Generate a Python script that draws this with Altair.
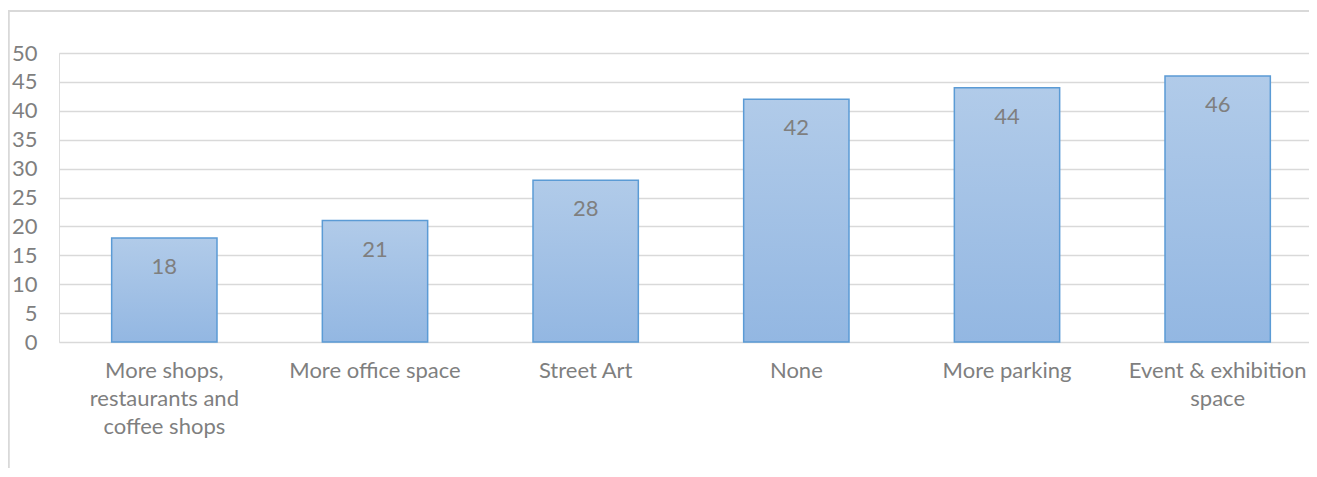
import altair as alt
import pandas as pd

categories = [
    "More shops,\nrestaurants and\ncoffee shops",
    "More office space",
    "Street Art",
    "None",
    "More parking",
    "Event & exhibition\nspace",
]
values = [18, 21, 28, 42, 44, 46]
y_ticks = [0, 5, 10, 15, 20, 25, 30, 35, 40, 45, 50]

df = pd.DataFrame({"cat": categories, "val": values})

FONT = "Lato"
TXT = "#7f7f7f"
GRID = "#d9d9d9"
W = 1250
H = 289
FS = 22

xscale = alt.Scale(range=[0, 1264], paddingInner=0.5, paddingOuter=0.25)
yscale = alt.Scale(domain=[0, 50], nice=False)

base = alt.Chart(df)

bars = base.mark_bar(
    color=alt.Gradient(
        gradient="linear",
        stops=[alt.GradientStop(color="#b1cbe9", offset=0),
               alt.GradientStop(color="#93b7e2", offset=1)],
        x1=0, x2=0, y1=0, y2=1,
    ),
    stroke="#5b9bd5",
    strokeWidth=1.5,
).encode(
    x=alt.X("cat:N", sort=None, scale=xscale, title=None,
            axis=alt.Axis(labelAngle=0, labelExpr="split(datum.label, '\\n')",
                          labelFont=FONT, labelFontSize=FS, labelColor=TXT,
                          labelLineHeight=28, labelPadding=18, ticks=False,
                          tickSize=0, domain=False, grid=False, labelLimit=300,
                          labelBaseline="top", labelOverlap=False)),
    y=alt.Y("val:Q", scale=yscale, title=None,
            axis=alt.Axis(values=y_ticks, tickCount=11, labelFont=FONT, labelFontSize=FS,
                          labelColor=TXT, labelPadding=22, ticks=False, tickSize=0,
                          labelOverlap=False, domain=False, grid=True,
                          gridColor=GRID, gridWidth=1.5)),
)

labels = base.mark_text(
    font=FONT, fontSize=FS, color=TXT, baseline="middle", dy=29
).encode(
    x=alt.X("cat:N", sort=None, scale=xscale),
    y=alt.Y("val:Q", scale=yscale),
    text=alt.Text("val:Q"),
)

frame_left = alt.Chart(df).mark_rule(color=GRID, strokeWidth=1.5, clip=False).encode(
    x=alt.value(-50.5), y=alt.value(-42), y2=alt.value(H + 140)
)
frame_top = alt.Chart(df).mark_rule(color=GRID, strokeWidth=1.5, clip=False).encode(
    x=alt.value(-51), x2=alt.value(W + 20), y=alt.value(-42)
)

chart = alt.layer(frame_left, frame_top, bars, labels).properties(
    width=W, height=H,
    autosize=alt.AutoSizeParams(type="none"),
    padding={"left": 51, "top": 45, "right": 0, "bottom": 126},
).configure_view(stroke=None).configure(background="white")

chart.save("out.html", embed_options={"renderer": "svg", "actions": False})
